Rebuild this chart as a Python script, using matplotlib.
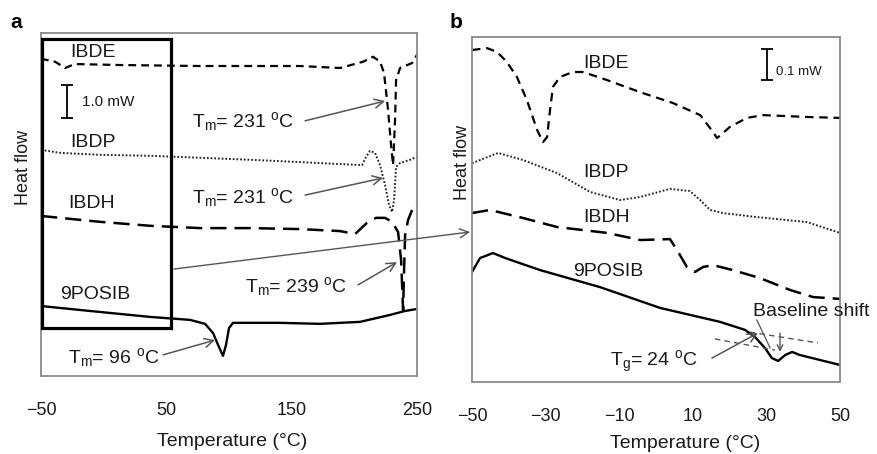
import matplotlib
matplotlib.use("Agg")
import matplotlib.pyplot as plt
from matplotlib.patches import Rectangle, ConnectionPatch
import numpy as np

plt.rcParams['font.family'] = ['Liberation Sans', 'DejaVu Sans']
plt.rcParams['mathtext.fontset'] = 'custom'
plt.rcParams['mathtext.rm'] = 'Liberation Sans'
plt.rcParams['mathtext.it'] = 'Liberation Sans'

# ---- panel a: full DSC scans (temperature in C, heat flow offset in mW) ----
a_ibde_t = [-50, -38.8, -30.8, -22.9, 13.0, 76.9, 156.7, 188.6, 207.0, 215.0, 220.5, 223.7,
            226.9, 229.3, 230.9, 232.5, 233.3, 236.5, 246.1, 250]
a_ibde_y = [9.61, 9.52, 9.33, 9.45, 9.42, 9.39, 9.39, 9.33, 9.52, 9.67, 9.52, 9.18,
            8.06, 7.0, 6.39, 7.76, 8.97, 9.33, 9.48, 9.73]

a_ibdp_t = [-50, -34.8, -2.9, 37.0, 76.9, 116.8, 156.7, 188.6, 206.2, 209.4, 212.5, 216.5,
            220.5, 224.5, 227.7, 230.1, 231.7, 233.3, 236.5, 244.5, 250]
a_ibdp_y = [6.85, 6.76, 6.70, 6.67, 6.61, 6.55, 6.48, 6.42, 6.39, 6.64, 6.82, 6.76,
            6.39, 5.79, 5.18, 4.97, 5.33, 6.33, 6.45, 6.55, 6.64]

a_ibdh_t = [-50, -34.8, -2.9, 37.0, 76.9, 116.8, 156.7, 188.6, 200.6, 210.1, 217.3, 224.5,
            230.1, 234.9, 237.3, 238.9, 239.7, 240.5, 242.9, 246.1, 250]
a_ibdh_y = [4.85, 4.79, 4.67, 4.55, 4.48, 4.48, 4.45, 4.39, 4.30, 4.64, 4.79, 4.79,
            4.67, 4.36, 3.52, 2.0, 3.21, 4.27, 4.73, 5.03, 5.24]

a_posib_t = [-50, -18.9, 13.0, 37.0, 68.9, 80.9, 87.3, 91.3, 95.2, 97.6, 100.0, 103.2,
             140.7, 172.6, 204.6, 228.5, 240.5, 250]
a_posib_y = [2.12, 2.00, 1.88, 1.79, 1.70, 1.58, 1.30, 0.94, 0.61, 0.94, 1.45, 1.61,
             1.61, 1.58, 1.64, 1.85, 1.97, 2.03]

# ---- panel b: zoom -50..50 C ----
b_ibde_t = [-50, -45.9, -43.2, -40.5, -37.8, -35.1, -32.3, -30.7, -29.6, -28.8, -28.0, -26.1,
            -22.6, -19.8, -13.3, -4.3, 4.6, 12.0, 14.7, 16.6, 20.1, 24.7, 29.1, 41.0, 50]
b_ibde_y = [1.071, 1.077, 1.065, 1.032, 0.984, 0.910, 0.813, 0.774, 0.790, 0.877, 0.952, 0.984,
            1.0, 1.0, 0.974, 0.935, 0.900, 0.861, 0.819, 0.787, 0.823, 0.852, 0.861, 0.855, 0.852]

b_ibdp_t = [-50, -42.9, -36.1, -26.9, -17.9, -9.8, -4.3, 3.8, 9.2, 12.0, 14.7, 18.2, 27.4, 41.0, 50]
b_ibdp_y = [0.706, 0.739, 0.716, 0.674, 0.613, 0.587, 0.597, 0.623, 0.616, 0.587, 0.555, 0.545,
            0.532, 0.516, 0.481]

b_ibdh_t = [-50, -45.1, -36.1, -26.9, -13.3, -4.3, 3.8, 5.7, 8.4, 10.6, 12.8, 15.5, 20.9, 28.3,
            36.4, 42.7, 50]
b_ibdh_y = [0.545, 0.555, 0.529, 0.500, 0.481, 0.458, 0.461, 0.426, 0.371, 0.355, 0.371, 0.377,
            0.361, 0.335, 0.297, 0.274, 0.268]

b_posib_t = [-50, -47.8, -44.3, -41.0, -31.5, -15.2, 1.1, 17.4, 24.2, 26.9, 29.6, 31.5, 33.2,
             35.1, 37.0, 39.1, 50]
b_posib_y = [0.355, 0.400, 0.416, 0.400, 0.361, 0.306, 0.239, 0.194, 0.168, 0.145, 0.110, 0.077,
             0.068, 0.087, 0.097, 0.087, 0.055]

# baseline tangents for Tg
tan_hi_t = [25.5, 44.0]
tan_hi_y = [0.161, 0.126]
tan_lo_t = [16.0, 32.3]
tan_lo_y = [0.139, 0.103]

a_ticks = [-50, 50, 150, 250]
b_ticks = [-50, -30, -10, 10, 30, 50]

txt = '#1a1a1a'
arr = '#555555'
frame = '#8a8a8a'

fig = plt.figure(figsize=(8.77, 4.54), dpi=100)
axa = fig.add_axes([41 / 877, 1 - 376 / 454, 376 / 877, 343 / 454])
axb = fig.add_axes([472 / 877, 1 - 382 / 454, 368 / 877, 345 / 454])

for ax, ticks, ylim in ((axa, a_ticks, (0, 10.39)), (axb, b_ticks, (0, 1.113))):
    ax.set_xlim(ticks[0], ticks[-1])
    ax.set_ylim(*ylim)
    ax.set_xticks(ticks)
    ax.set_xticklabels([str(t).replace('-', '\u2212') for t in ticks])
    ax.set_yticks([])
    ax.tick_params(axis='x', length=0, pad=19, labelsize=13, labelcolor=txt)
    for s in ax.spines.values():
        s.set_color(frame)
        s.set_linewidth(1.3)

# panel a curves
axa.plot(a_ibde_t, a_ibde_y, color='k', lw=1.6, dashes=(3.5, 2.3))
axa.plot(a_ibdp_t, a_ibdp_y, color='#222222', lw=1.4, dashes=(0.9, 1.0))
axa.plot(a_ibdh_t, a_ibdh_y, color='k', lw=1.8, dashes=(6.5, 3.2))
axa.plot(a_posib_t, a_posib_y, color='k', lw=1.7)

# panel b curves
axb.plot(b_ibde_t, b_ibde_y, color='k', lw=1.6, dashes=(3.8, 2.6))
axb.plot(b_ibdp_t, b_ibdp_y, color='#222222', lw=1.4, dashes=(0.9, 1.0))
axb.plot(b_ibdh_t, b_ibdh_y, color='k', lw=1.8, dashes=(6.5, 3.2))
axb.plot(b_posib_t, b_posib_y, color='k', lw=1.7)
axb.plot(tan_hi_t, tan_hi_y, color='#555555', lw=1.0, dashes=(4, 3))
axb.plot(tan_lo_t, tan_lo_y, color='#555555', lw=1.0, dashes=(4, 3))

# curve labels
fs = 14
for x, y, s in ((-26.9, 9.79, 'IBDE'), (-26.9, 7.06, 'IBDP'), (-28.5, 5.24, 'IBDH'),
                (-34.8, 2.48, '9POSIB')):
    axa.text(x, y, s, fontsize=fs, color=txt, va='center', ha='left')
for x, y, s in ((-19.8, 1.029, 'IBDE'), (-19.8, 0.677, 'IBDP'), (-19.8, 0.532, 'IBDH'),
                (-22.6, 0.355, '9POSIB')):
    axb.text(x, y, s, fontsize=fs, color=txt, va='center', ha='left')

# melting point annotations
def note(ax, s, xy_text, start, tip):
    ax.text(xy_text[0], xy_text[1], s, fontsize=fs, color=txt, va='center', ha='left')
    ax.annotate('', xy=tip, xytext=start,
                arrowprops=dict(arrowstyle='->', color=arr, lw=1.1, mutation_scale=16,
                                shrinkA=0, shrinkB=0))

tm = r'T$_\mathrm{m}$= %s $^\mathrm{o}$C'
note(axa, tm % '231', (70.5, 7.70), (160.7, 7.73), (224.5, 8.33))
note(axa, tm % '231', (70.5, 5.42), (160.7, 5.48), (222.9, 6.00))
note(axa, tm % '239', (112.8, 2.70), (203.0, 2.76), (234.1, 3.45))
note(axa, tm % '96', (-28.5, 0.55), (47.4, 0.64), (88.9, 1.09))
note(axb, r'T$_\mathrm{g}$= 24 $^\mathrm{o}$C', (-12.5, 0.065), (15.2, 0.077), (27.7, 0.158))

axb.text(26.4, 0.226, 'Baseline shift', fontsize=fs, color=txt, va='center', ha='left',
         clip_on=False)
axb.plot([27.4, 31.0], [0.20, 0.11], color=arr, lw=0.9)
axb.annotate('', xy=(33.7, 0.097), xytext=(33.7, 0.158),
             arrowprops=dict(arrowstyle='->', color=arr, lw=1.0, mutation_scale=10,
                             shrinkA=0, shrinkB=0))

# scale bars
axa.errorbar([-29.3], [8.32], yerr=[[0.5], [0.5]], color='k', lw=1.3, capsize=4, capthick=1.3)
axa.text(-17.3, 8.30, '1.0 mW', fontsize=11, color=txt, va='center', ha='left')
axb.errorbar([30.2], [1.024], yerr=[[0.05], [0.05]], color='k', lw=1.3, capsize=4, capthick=1.3)
axb.text(32.6, 1.0, '0.1 mW', fontsize=9.5, color=txt, va='center', ha='left')

# zoom box and connector
axa.add_patch(Rectangle((-49.2, 1.45), 102.9, 8.76, fill=False, ec='k', lw=2.3, zorder=5))
con = ConnectionPatch(xyA=(56.1, 3.24), coordsA=axa.transData,
                      xyB=(-50.5, 0.484), coordsB=axb.transData,
                      arrowstyle='->', color=arr, lw=1.0, mutation_scale=16)
fig.add_artist(con)

# axis titles
fig.text(232 / 877, 1 - 442 / 454, 'Temperature (\u00b0C)', fontsize=14, color=txt,
         ha='center', va='center')
fig.text(685 / 877, 1 - 443 / 454, 'Temperature (\u00b0C)', fontsize=14, color=txt,
         ha='center', va='center')
fig.text(24 / 877, 1 - 167 / 454, 'Heat flow', fontsize=13, color=txt, rotation=90,
         ha='center', va='center')
fig.text(462 / 877, 1 - 162 / 454, 'Heat flow', fontsize=13, color=txt, rotation=90,
         ha='center', va='center')
fig.text(16 / 877, 1 - 22 / 454, 'a', fontsize=15, fontweight='bold', ha='center', va='center')
fig.text(456 / 877, 1 - 22 / 454, 'b', fontsize=15, fontweight='bold', ha='center', va='center')

fig.savefig('out.png', dpi=100)
